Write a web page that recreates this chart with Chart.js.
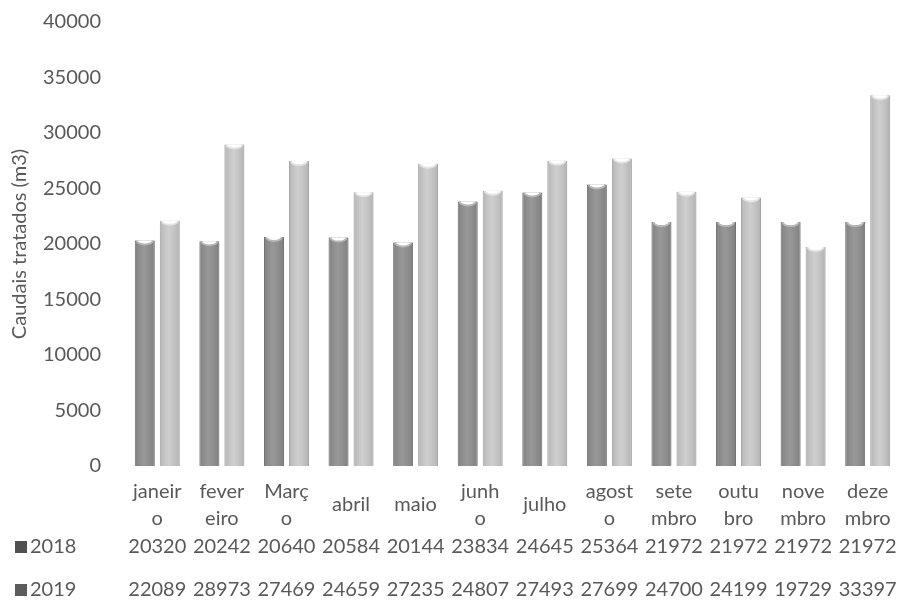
<!DOCTYPE html>
<html>
<head>
<meta charset="utf-8">
<script src="https://cdn.jsdelivr.net/npm/chart.js@4.4.1/dist/chart.umd.min.js"></script>
<style>
  html, body { margin: 0; padding: 0; background: #ffffff; }
  #wrap { width: 906px; height: 602px; position: relative; }
</style>
</head>
<body>
<div id="wrap"><canvas id="c" width="906" height="602"></canvas></div>
<script>
// Monthly treated flow (m3), two years
const months = [
  ['janeir', 'o'], ['fever', 'eiro'], ['Març', 'o'], ['abril'], ['maio'], ['junh', 'o'],
  ['julho'], ['agost', 'o'], ['sete', 'mbro'], ['outu', 'bro'], ['nove', 'mbro'], ['deze', 'mbro']
];
const seriesNames = ['2018', '2019'];
const values2018 = [20320, 20242, 20640, 20584, 20144, 23834, 24645, 25364, 21972, 21972, 21972, 21972];
const values2019 = [22089, 28973, 27469, 24659, 27235, 24807, 27493, 27699, 24700, 24199, 19729, 33397];
const yTicks = [0, 5000, 10000, 15000, 20000, 25000, 30000, 35000, 40000];

const TEXT = '#595959';
const FONT = 'Lato, "Open Sans", sans-serif';
const FONT_SIZE = 20;
const barFill = ['#8f8f8f', '#cacaca'];
const barEdge = ['#7b7b7b', '#b4b4b4'];
const barShine = ['#b8b8b8', '#e4e4e4'];
const keyFill = ['#505050', '#5c5c5c'];

// Rounded cylinder-style tops and side shading on each bar
const cylinderPlugin = {
  id: 'cylinderTops',
  afterDatasetsDraw(chart) {
    const ctx = chart.ctx;
    chart.data.datasets.forEach((ds, d) => {
      chart.getDatasetMeta(d).data.forEach(bar => {
        const w = bar.width;
        const left = bar.x - w / 2;
        const top = bar.y;
        const bottom = bar.base;
        ctx.save();
        ctx.beginPath();
        ctx.rect(left, top, w, bottom - top);
        ctx.clip();
        const g = ctx.createLinearGradient(left, 0, left + w, 0);
        g.addColorStop(0, 'rgba(0,0,0,0.10)');
        g.addColorStop(0.45, 'rgba(255,255,255,0.08)');
        g.addColorStop(1, 'rgba(0,0,0,0.12)');
        ctx.fillStyle = g;
        ctx.fillRect(left, top, w, bottom - top);
        ctx.beginPath();
        ctx.ellipse(bar.x, top, w / 2 - 1, 5, 0, 0, Math.PI * 2);
        ctx.fillStyle = barShine[d];
        ctx.fill();
        ctx.beginPath();
        ctx.ellipse(bar.x, top, w / 2 - 3, 3, 0, 0, Math.PI * 2);
        ctx.fillStyle = '#ffffff';
        ctx.fill();
        ctx.restore();
      });
    });
  }
};

// Category labels and the data table underneath the plot
const tablePlugin = {
  id: 'dataTable',
  afterDraw(chart) {
    const ctx = chart.ctx;
    const x = chart.scales.x;
    ctx.save();
    ctx.fillStyle = TEXT;
    ctx.font = FONT_SIZE + 'px ' + FONT;
    ctx.textAlign = 'center';
    ctx.textBaseline = 'middle';
    chart.data.labels.forEach((lab, i) => {
      const cx = x.getPixelForValue(i);
      if (lab.length === 1) {
        ctx.fillText(lab[0], cx, 505);
      } else {
        ctx.fillText(lab[0], cx, 492);
        ctx.fillText(lab[1], cx, 519);
      }
    });
    const rowY = [547, 590];
    chart.data.datasets.forEach((ds, r) => {
      const y = rowY[r];
      ctx.fillStyle = keyFill[r];
      ctx.fillRect(15, y - 6, 12, 12);
      ctx.fillStyle = TEXT;
      ctx.textAlign = 'left';
      ctx.fillText(ds.label, 30, y);
      ctx.textAlign = 'center';
      ds.data.forEach((v, i) => {
        ctx.fillText(String(v), x.getPixelForValue(i), y);
      });
    });
    ctx.restore();
  }
};

new Chart(document.getElementById('c'), {
  type: 'bar',
  data: {
    labels: months,
    datasets: [
      { label: seriesNames[0], data: values2018, backgroundColor: barFill[0], borderColor: barEdge[0], borderWidth: 1 },
      { label: seriesNames[1], data: values2019, backgroundColor: barFill[1], borderColor: barEdge[1], borderWidth: 1 }
    ]
  },
  options: {
    responsive: false,
    animation: false,
    layout: { padding: { top: 22, right: 6, bottom: 136, left: 6 } },
    datasets: { bar: { categoryPercentage: 0.774, barPercentage: 0.8 } },
    plugins: { legend: { display: false }, tooltip: { enabled: false } },
    scales: {
      x: {
        grid: { display: false, drawTicks: false },
        border: { display: false },
        ticks: { display: false }
      },
      y: {
        min: 0, max: 40000,
        afterBuildTicks(scale) { scale.ticks = yTicks.map(v => ({ value: v })); },
        afterFit(scale) { scale.width = 119; scale.paddingTop = 0; scale.paddingBottom = 0; },
        grid: { display: false, drawTicks: false },
        border: { display: false },
        ticks: { color: TEXT, font: { family: FONT, size: FONT_SIZE }, padding: 24, callback: v => String(v) },
        title: { display: true, text: 'Caudais tratados (m3)', color: TEXT, font: { family: FONT, size: FONT_SIZE }, padding: { top: 2, bottom: 4 } }
      }
    }
  },
  plugins: [cylinderPlugin, tablePlugin]
});
</script>
</body>
</html>
